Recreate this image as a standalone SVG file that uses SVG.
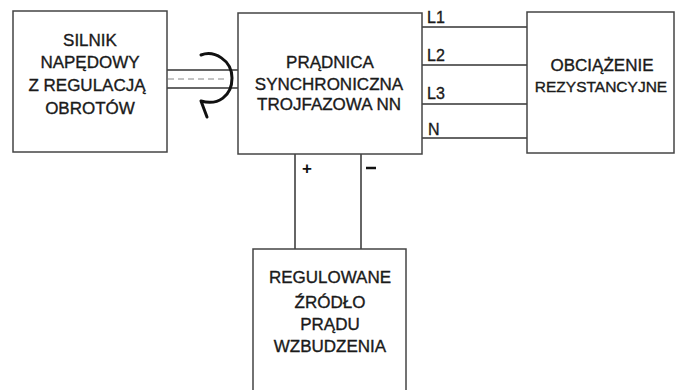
<svg xmlns="http://www.w3.org/2000/svg" width="675" height="390" viewBox="0 0 675 390">
<style>
.box{fill:#fff;stroke:#444;stroke-width:1.5}
.w{fill:none;stroke:#333;stroke-width:1.5}
.t{font-family:"Liberation Sans",Arial,sans-serif;font-size:17px;fill:#1a1a1a;stroke:#1a1a1a;stroke-width:0.35;text-anchor:middle}
.l{font-family:"Liberation Sans",Arial,sans-serif;font-size:16px;fill:#1a1a1a;stroke:#1a1a1a;stroke-width:0.35}
</style>
<rect width="675" height="390" fill="#fff"/>
<g id="connectors">
<line class="w" x1="167" y1="70" x2="238" y2="70"/>
<line class="w" x1="167" y1="88" x2="238" y2="88"/>
<line x1="168" y1="79" x2="228" y2="79" stroke="#888" stroke-width="1" stroke-dasharray="6,4"/>
<path d="M201,55 C214,50 232,60 232,78 C232,96 218,106 201,101 M201,101 L207,117" fill="none" stroke="#111" stroke-width="3" stroke-linecap="round" stroke-linejoin="round"/>
<line class="w" x1="422" y1="27" x2="527" y2="27"/>
<line class="w" x1="422" y1="65" x2="527" y2="65"/>
<line class="w" x1="422" y1="104" x2="527" y2="104"/>
<line class="w" x1="422" y1="138" x2="527" y2="138"/>
<line class="w" x1="295" y1="154" x2="295" y2="249"/>
<line class="w" x1="361" y1="154" x2="361" y2="249"/>
<text class="l" x="427" y="23">L1</text>
<text class="l" x="427" y="61">L2</text>
<text class="l" x="427" y="99">L3</text>
<text class="l" x="428" y="135">N</text>
<text x="307" y="174" font-family="Liberation Sans,Arial,sans-serif" font-size="17" font-weight="bold" fill="#111" text-anchor="middle">+</text>
<line x1="366" y1="168" x2="376" y2="168" stroke="#111" stroke-width="2.5"/>
</g>
<g id="silnik">
<rect class="box" x="13" y="11" width="154" height="141"/>
<text class="t" x="90" y="46">SILNIK</text>
<text class="t" x="90" y="68">NAPĘDOWY</text>
<text class="t" x="87" y="91">Z REGULACJĄ</text>
<text class="t" x="90" y="114">OBROTÓW</text>
</g>
<g id="pradnica">
<rect class="box" x="238" y="13" width="184" height="141"/>
<text class="t" x="330" y="68">PRĄDNICA</text>
<text class="t" x="329" y="90">SYNCHRONICZNA</text>
<text class="t" x="329" y="110">TROJFAZOWA NN</text>
</g>
<g id="obciazenie">
<rect class="box" x="527" y="12" width="147" height="141"/>
<text class="t" x="602" y="71">OBCIĄŻENIE</text>
<text class="t" x="601" y="92" style="font-size:15.5px">REZYSTANCYJNE</text>
</g>
<g id="zrodlo">
<rect class="box" x="253" y="249" width="153" height="150"/>
<text class="t" x="330" y="283">REGULOWANE</text>
<text class="t" x="330" y="308">ŹRÓDŁO</text>
<text class="t" x="330" y="330">PRĄDU</text>
<text class="t" x="330" y="352">WZBUDZENIA</text>
</g>
</svg>
